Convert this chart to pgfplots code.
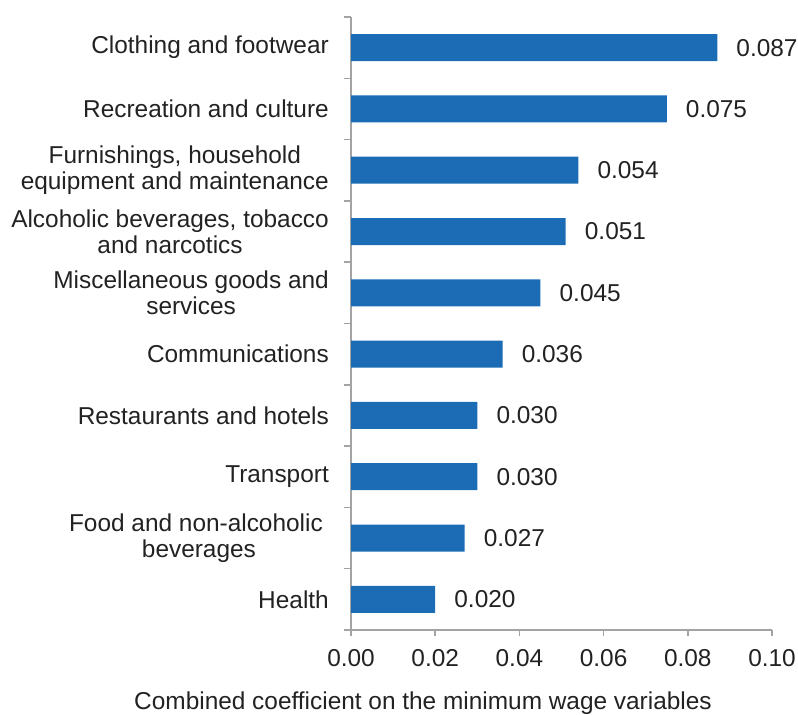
\documentclass[border=0pt]{standalone}
\usepackage{pgfplots}
\pgfplotsset{compat=1.18}
\usepackage{fontspec}
\setmainfont{Liberation Sans}
\definecolor{barblue}{HTML}{1B6CB5}
\definecolor{axgray}{HTML}{A3A3A3}
\definecolor{txt}{HTML}{222222}
\newcommand{\chartfont}{\fontsize{24.5}{26}\selectfont}
\begin{document}
\begin{tikzpicture}[x=1bp,y=1bp]
\path[use as bounding box] (0,0) rectangle (798,715);
\begin{axis}[
  at={(351bp,85bp)}, anchor=south west,
  scale only axis, width=421bp, height=613bp,
  xbar, bar width=27bp,
  xmin=0, xmax=0.1, ymin=-0.5, ymax=9.5,
  axis x line*=bottom, axis y line*=left,
  axis line style={draw=axgray, line width=1.5bp},
  tick align=outside,
  major tick length=6bp, minor tick length=7bp,
  xtick={0,0.02,0.04,0.06,0.08,0.1},
  ytick={0,...,9},
  minor ytick={-0.5,0.5,...,9.5},
  major y tick style={draw=none},
  minor y tick style={draw=axgray, line width=1.5bp},
  major x tick style={draw=axgray, line width=1.5bp},
  /pgf/number format/assume math mode=true,
  xticklabel style={font=\chartfont, text=txt, yshift=-10bp,
    /pgf/number format/.cd, fixed, fixed zerofill, precision=2},
  scaled x ticks=false,
  yticklabels={{Health},{Food and non-alcoholic\rule{6bp}{0pt}\\beverages},{Transport},{Restaurants and hotels},{Communications},{Miscellaneous goods and\\services},{Alcoholic beverages, tobacco\\and narcotics},{Furnishings, household\\equipment and maintenance},{Recreation and culture},{Clothing and footwear}},
  yticklabel style={font=\chartfont, text=txt, align=center, anchor=east, inner sep=0pt, xshift=-16bp},
  xlabel={Combined coefficient on the minimum wage variables},
  xlabel style={font=\chartfont, text=txt, at={(axis description cs:0.171,0)}, anchor=center, yshift=-73bp},
  nodes near coords,
  nodes near coords style={font=\chartfont, text=txt, anchor=west, inner sep=0pt, xshift=19bp,
    /pgf/number format/.cd, fixed, fixed zerofill, precision=3},
  clip=false,
]
\addplot[fill=barblue, draw=none] coordinates {
(0.020,0) (0.027,1) (0.030,2) (0.030,3) (0.036,4) (0.045,5) (0.051,6) (0.054,7) (0.075,8) (0.087,9)
};
\end{axis}
\end{tikzpicture}
\end{document}
